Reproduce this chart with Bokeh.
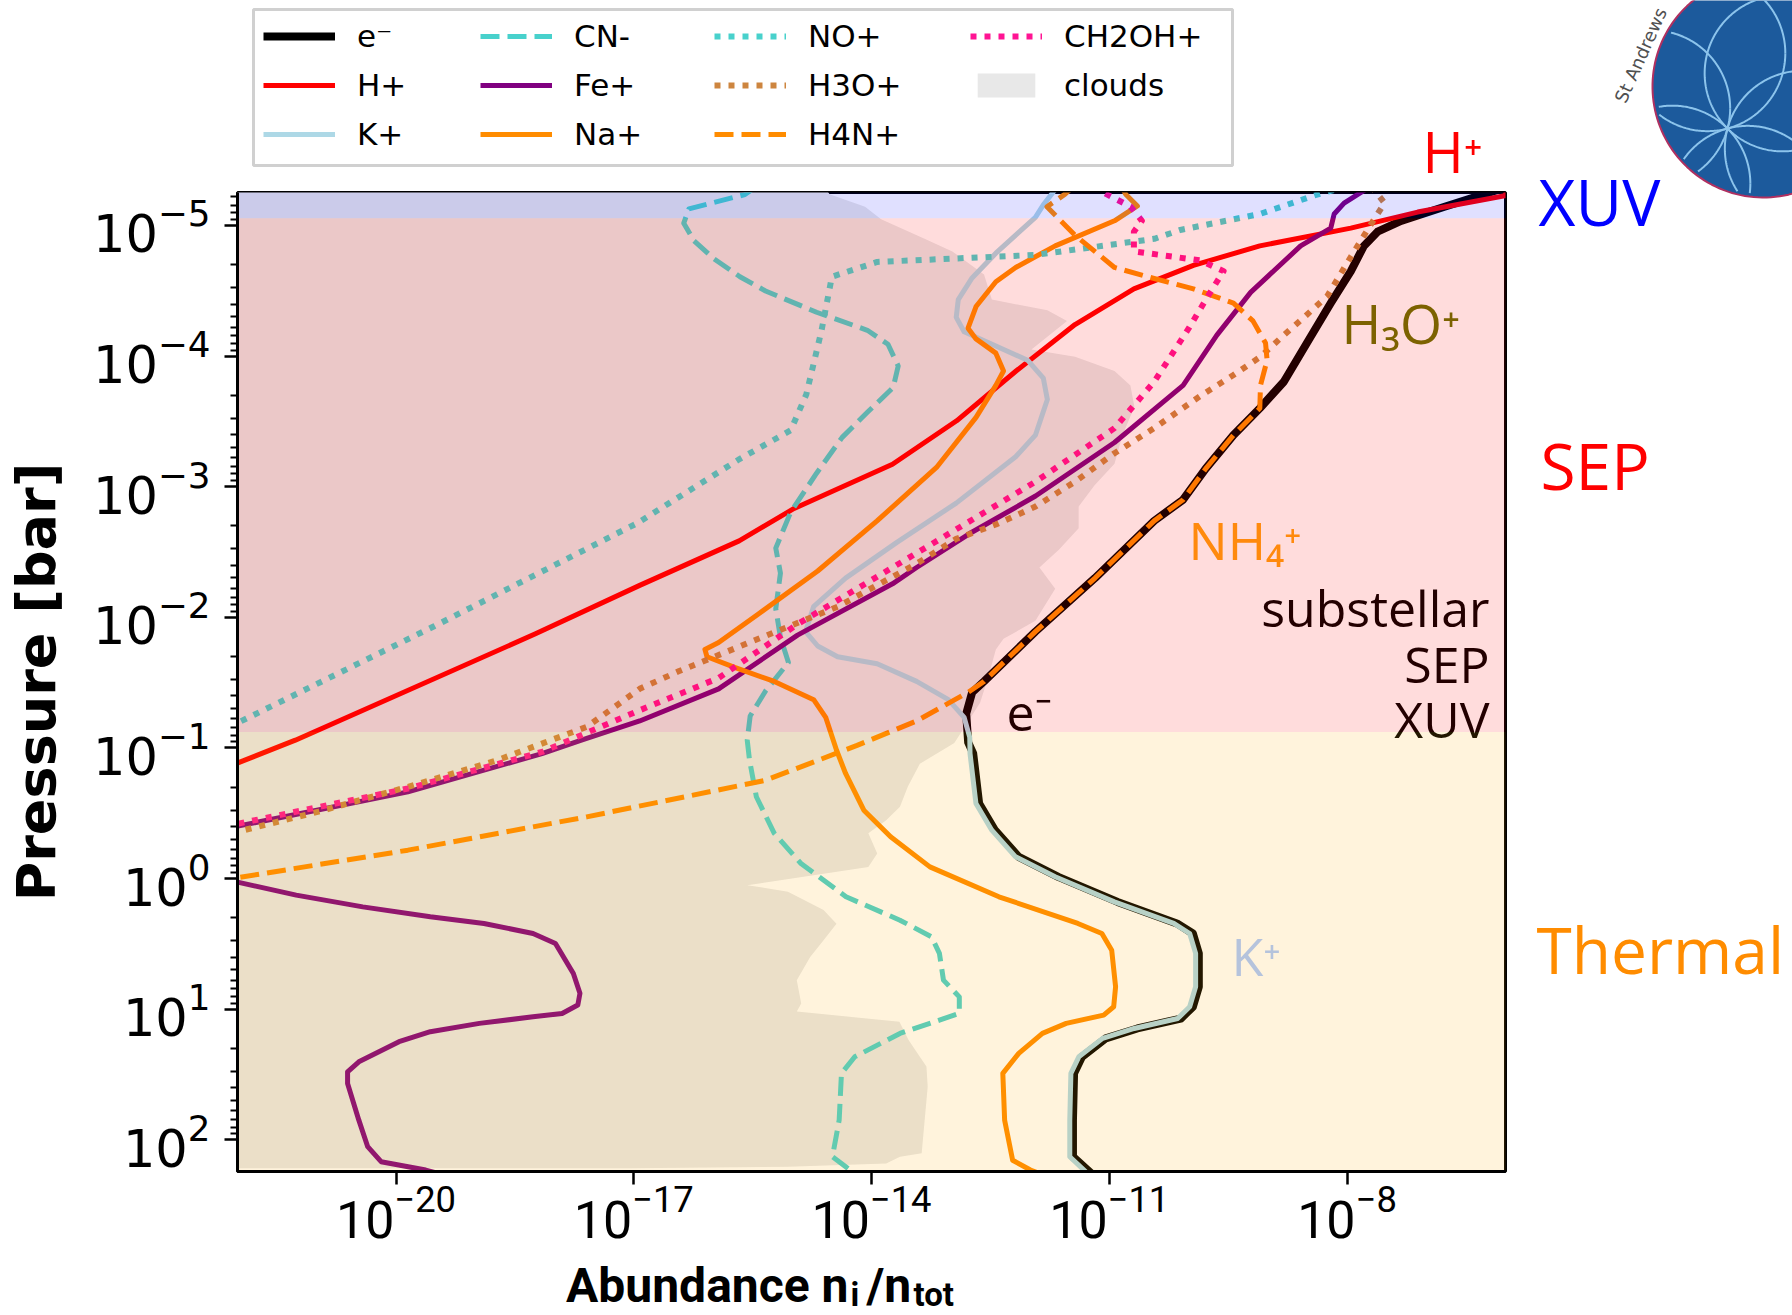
import numpy as np
from bokeh.plotting import figure
from bokeh.layouts import row, column
from bokeh.models import Range1d, FixedTicker, Legend, LegendItem
from bokeh.core.properties import value
from bokeh.embed import file_html
from bokeh.resources import INLINE

# ---------------- axis limits / ticks ----------------
x_lo, x_hi = 1e-22, 1e-6
p_top, p_bot = 5.6e-6, 175.0
x_major_ticks = [1e-20, 1e-17, 1e-14, 1e-11, 1e-8]
y_major_ticks = [1e-5, 1e-4, 1e-3, 1e-2, 1e-1, 1e0, 1e1, 1e2]

# ---------------- irradiation regions ----------------
region_names = ["XUV", "SEP", "Thermal"]
region_p_upper = [1e-7, 8.8e-6, 0.0755]
region_p_lower = [8.8e-6, 0.0755, 1e4]

# ---------------- species profiles (log10 p [bar], log10 n_i/n_tot) ----------------
electron_logp = [-5.30, -5.143, -5.035, -4.952, -4.843, -4.650, -4.405, -4.104, -3.803, -3.600, -3.394,
                 -3.136, -2.900, -2.738, -2.300, -1.890, -1.509, -1.425, -1.261, -1.042, -0.958, -0.574,
                 -0.370, -0.166, -0.013, 0.179, 0.344, 0.421, 0.573, 0.829, 0.982, 1.072, 1.148, 1.224,
                 1.365, 1.492, 1.850, 2.130, 2.300]
electron_logx = [-5.95, -6.769, -7.318, -7.614, -7.787, -7.951, -8.205, -8.502, -8.797, -9.100, -9.433,
                 -9.785, -10.068, -10.433, -11.180, -11.932, -12.580, -12.730, -12.805, -12.780, -12.717,
                 -12.642, -12.442, -12.142, -11.643, -10.895, -10.146, -9.945, -9.870, -9.870, -9.945,
                 -10.097, -10.645, -11.044, -11.344, -11.444, -11.458, -11.458, -11.150]

hplus_logp = [-5.30, -5.227, -5.102, -4.979, -4.843, -4.694, -4.514, -4.241, -3.885, -3.504, -3.171,
              -2.833, -2.585, -2.244, -1.873, -1.059, -0.879, -0.500]
hplus_logx = [-5.95, -6.010, -7.108, -7.952, -9.100, -9.938, -10.689, -11.432, -12.176, -12.926, -13.735,
              -14.976, -15.670, -16.925, -18.240, -21.270, -22.020, -24.000]

kplus_logp = [-5.30, -5.157, -5.061, -4.952, -4.787, -4.598, -4.432, -4.296, -4.186, -4.077, -3.968,
              -3.831, -3.667, -3.394, -3.229, -2.874, -2.573, -2.300, -2.081, -1.890, -1.780, -1.698,
              -1.644, -1.509, -1.369, -1.234, -1.080, -0.958, -0.574, -0.370, -0.166, -0.013, 0.179,
              0.344, 0.421, 0.573, 0.829, 0.982, 1.072, 1.148, 1.224, 1.365, 1.492, 1.850, 2.130, 2.300]
kplus_logx = [-11.65, -11.832, -11.932, -12.132, -12.431, -12.731, -12.905, -12.931, -12.831, -12.431,
              -12.031, -11.832, -11.781, -11.932, -12.181, -12.931, -13.680, -14.327, -14.731, -14.832,
              -14.679, -14.428, -13.929, -13.431, -13.030, -12.831, -12.760, -12.757, -12.682, -12.482,
              -12.182, -11.683, -10.935, -10.186, -9.985, -9.910, -9.910, -9.985, -10.137, -10.685,
              -11.084, -11.384, -11.484, -11.498, -11.498, -11.200]

cnminus_logp = [-5.30, -5.236, -5.127, -5.017, -4.881, -4.744, -4.607, -4.498, -4.335, -4.197, -4.090,
                -3.924, -3.759, -3.569, -3.377, -3.103, -2.804, -2.529, -2.338, -2.065, -1.846, -1.654,
                -1.436, -1.244, -1.059, -0.906, -0.626, -0.346, -0.115, 0.140, 0.319, 0.446, 0.573,
                0.778, 0.906, 1.033, 1.084, 1.186, 1.365, 1.492, 1.850, 2.130, 2.232, 2.300]
cnminus_logx = [-15.45, -15.597, -16.304, -16.369, -16.239, -15.987, -15.660, -15.337, -14.693, -14.052,
                -13.792, -13.663, -13.726, -14.052, -14.370, -14.693, -15.020, -15.208, -15.149, -15.208,
                -15.149, -15.048, -15.337, -15.531, -15.568, -15.539, -15.453, -15.227, -14.890, -14.322,
                -13.641, -13.244, -13.143, -13.092, -12.892, -12.892, -13.143, -13.641, -14.211, -14.379,
                -14.408, -14.493, -14.269, -14.100]

feplus_logp = [-5.30, -5.171, -5.087, -4.979, -4.843, -4.487, -4.160, -3.775, -3.338, -2.928, -2.639,
               -2.381, -2.256, -1.863, -1.452, -1.206, -1.059, -0.956, -0.663, -0.398, -0.200, -0.100,
               0.025, 0.127, 0.217, 0.293, 0.344, 0.421, 0.497, 0.727, 0.879, 0.969, 1.033, 1.059,
               1.109, 1.173, 1.249, 1.403, 1.480, 1.569, 1.850, 2.053, 2.168, 2.232, 2.300]
feplus_logx = [-7.70, -8.037, -8.162, -8.205, -8.585, -9.216, -9.642, -10.068, -10.934, -11.930,
               -12.767, -13.431, -13.735, -14.933, -15.929, -16.925, -17.660, -18.158, -19.850, -22.020,
               -23.500, -23.500, -22.020, -21.259, -20.419, -19.567, -18.890, -18.271, -17.988, -17.762,
               -17.679, -17.706, -17.904, -18.271, -18.948, -19.567, -19.962, -20.469, -20.611, -20.611,
               -20.469, -20.357, -20.188, -19.625, -19.200]

naplus_logp = [-5.30, -5.236, -5.149, -5.035, -4.843, -4.678, -4.569, -4.379, -4.213, -4.131, -4.022,
               -3.885, -3.775, -3.530, -3.147, -2.738, -2.354, -2.025, -1.807, -1.754, -1.698, -1.616,
               -1.509, -1.369, -1.234, -0.984, -0.804, -0.523, -0.319, -0.089, 0.140, 0.344, 0.421,
               0.549, 0.829, 0.982, 1.046, 1.109, 1.186, 1.339, 1.492, 1.850, 2.157, 2.232, 2.300]
naplus_logx = [-10.85, -10.790, -10.645, -10.934, -11.682, -12.181, -12.431, -12.681, -12.782, -12.681,
               -12.431, -12.334, -12.431, -12.681, -13.180, -13.930, -14.679, -15.427, -15.929, -16.102,
               -16.076, -15.727, -15.227, -14.730, -14.578, -14.442, -14.327, -14.097, -13.759, -13.263,
               -12.392, -11.396, -11.093, -10.969, -10.920, -10.944, -11.070, -11.543, -11.843, -12.142,
               -12.343, -12.320, -12.219, -11.994, -11.700]

noplus_logp = [-5.30, -5.231, -5.087, -4.965, -4.897, -4.774, -4.720, -4.607, -4.197, -3.705, -3.431,
               -3.213, -2.721, -1.929, -1.185, -0.900]
noplus_logx = [-8.00, -8.402, -9.100, -10.104, -10.433, -11.930, -13.929, -14.500, -14.630, -14.823,
               -15.020, -15.660, -16.954, -19.526, -22.020, -23.000]

h3oplus_logp = [-5.30, -5.239, -5.171, -5.006, -4.760, -4.459, -4.296, -4.160, -3.994, -3.854, -3.694,
                -3.448, -3.256, -3.038, -2.848, -2.710, -2.600, -2.410, -2.081, -1.835, -1.588, -1.452,
                -1.161, -0.906, -0.702, -0.512, -0.355, -0.200]
h3oplus_logx = [-7.70, -7.614, -7.527, -7.700, -7.951, -8.249, -8.543, -8.797, -9.092, -9.433, -9.851,
                -10.433, -10.934, -11.432, -11.930, -12.431, -12.931, -13.431, -14.428, -15.427, -16.426,
                -16.925, -17.593, -18.721, -19.850, -20.977, -22.020, -23.300]

h4nplus_logp = [-5.30, -5.239, -5.143, -4.925, -4.678, -4.610, -4.514, -4.405, -4.269, -4.099, -3.968,
                -3.775, -3.600, -3.394, -3.136, -2.900, -2.738, -2.300, -1.890, -1.509, -1.425, -1.206,
                -1.019, -0.752, -0.472, -0.217, -0.004, 0.200]
h4nplus_logx = [-11.45, -11.558, -11.786, -11.432, -10.934, -10.534, -9.938, -9.433, -9.187, -9.028,
                -9.008, -9.092, -9.100, -9.433, -9.785, -10.068, -10.433, -11.180, -11.932, -12.580,
                -12.782, -13.431, -14.182, -15.337, -17.593, -19.850, -22.020, -24.000]

ch2ohplus_logp = [-5.30, -5.239, -5.143, -5.035, -4.952, -4.801, -4.732, -4.650, -4.487, -4.213, -3.803,
                  -3.448, -3.038, -2.491, -1.947, -1.535, -1.288, -0.969, -0.689, -0.416, -0.200]
ch2ohplus_logx = [-11.20, -11.035, -10.730, -10.588, -10.689, -10.689, -9.851, -9.557, -9.726, -9.996,
                  -10.433, -10.934, -11.930, -13.431, -14.933, -15.929, -16.925, -18.158, -19.850,
                  -22.020, -23.500]

# cloud deck: right-hand boundary of the cloudy layer
cloud_logp = [-5.30, -5.239, -5.143, -5.047, -4.897, -4.801, -4.624, -4.432, -4.350, -4.269, -4.050,
              -3.994, -3.885, -3.775, -3.612, -3.394, -3.175, -3.011, -2.848, -2.682, -2.519, -2.381,
              -2.218, -1.973, -1.835, -1.754, -1.535, -1.345, -1.037, -0.879, -0.704, -0.549, -0.446,
              -0.346, -0.192, -0.089, 0.051, 0.101, 0.241, 0.346, 0.472, 0.600, 0.778, 0.956, 1.019,
              1.096, 1.237, 1.439, 1.594, 2.104, 2.130, 2.181, 2.206, 2.218]
cloud_logx = [-14.60, -14.529, -14.081, -13.879, -13.331, -12.980, -12.580, -12.482, -11.781, -11.533,
              -11.982, -11.432, -10.934, -10.733, -10.683, -10.833, -10.934, -11.185, -11.386, -11.386,
              -11.633, -11.881, -11.682, -11.932, -12.334, -12.431, -12.530, -12.630, -12.955, -13.390,
              -13.541, -13.641, -13.815, -14.040, -13.928, -14.040, -15.568, -15.055, -14.605, -14.442,
              -14.605, -14.774, -14.943, -14.887, -14.943, -13.648, -13.533, -13.307, -13.291, -13.367,
              -13.641, -13.815, -15.055, -17.026]

species_names = ["e\u207b", "H+", "K+", "CN-", "Fe+", "Na+", "NO+", "H3O+", "H4N+", "CH2OH+"]
species_logp = [electron_logp, hplus_logp, kplus_logp, cnminus_logp, feplus_logp, naplus_logp,
                noplus_logp, h3oplus_logp, h4nplus_logp, ch2ohplus_logp]
species_logx = [electron_logx, hplus_logx, kplus_logx, cnminus_logx, feplus_logx, naplus_logx,
                noplus_logx, h3oplus_logx, h4nplus_logx, ch2ohplus_logx]

# styles (kept apart from the data)
species_color = ["black", "red", "lightblue", "mediumturquoise", "purple", "darkorange",
                 "mediumturquoise", "peru", "darkorange", "deeppink"]
species_width = [8, 5, 5, 5, 5, 5, 6, 6, 5, 6]
species_dash = ["solid", "solid", "solid", "19 8", "solid", "solid", "6 8", "6 8", "19 8", "6 8"]

# ---------------- page geometry (pixels) ----------------
W, H = 1792, 1315
FL, FR, FT, FB = 237, 1505, 192, 1171       # plot frame in page pixels
MAIN_W = FR + 3                              # 1508
HEAD_H = FT - 2                              # 190
FOOT_Y = 1256
MAIN_H = FOOT_Y - HEAD_H
RIGHT_W = W - MAIN_W                         # 284
LX0, LX1 = np.log10(x_lo), np.log10(x_hi)
LY0, LY1 = np.log10(p_top), np.log10(p_bot)
BASE = 0.40     # measured offset of the rendered text baseline, in em


def dx(px):
    return 10 ** (LX0 + (px - FL) * (LX1 - LX0) / (FR - FL))


def dy(py):
    return 10 ** (LY0 + (py - FT) * (LY1 - LY0) / (FB - FT))


def blank(w, h, x0=0, x1=None):
    f = figure(width=w, height=h, x_range=Range1d(x0, w if x1 is None else x1),
               y_range=Range1d(h, 0),
               min_border=0, toolbar_location=None, output_backend="svg",
               x_axis_location=None, y_axis_location=None, outline_line_color=None,
               background_fill_color="white", border_fill_color="white")
    f.grid.visible = False
    return f


# ================= main plot =================
p = figure(x_axis_type="log", y_axis_type="log",
           x_range=Range1d(x_lo, x_hi), y_range=Range1d(p_bot, p_top),
           width=MAIN_W, height=MAIN_H,
           min_border_left=FL, min_border_right=MAIN_W - FR,
           min_border_top=FT - HEAD_H, min_border_bottom=FOOT_Y - FB,
           output_backend="svg", toolbar_location=None,
           background_fill_color="white", border_fill_color="white")
p.grid.visible = False
p.outline_line_color = "black"
p.outline_line_width = 3

cx = [1e-24] + list(10.0 ** np.array(cloud_logx)) + [1e-24]
cy = [10 ** cloud_logp[0]] + list(10.0 ** np.array(cloud_logp)) + [10 ** cloud_logp[-1]]
p.patch(cx, cy, fill_color="#e8e8e8", line_color=None)

for lp, lx, col, wdt, dsh in zip(species_logp, species_logx, species_color, species_width, species_dash):
    p.line(10.0 ** np.array(lx), 10.0 ** np.array(lp), line_color=col, line_width=wdt,
           line_dash=dsh, line_cap="butt", line_join="round")


def intext(px, py, txt, size, color, align="left", font="Open Sans"):
    p.text(x=[dx(px)], y=[dy(py - BASE * size)], text=[txt], text_font=value(font),
           text_font_size=value(f"{size}px"), text_color=color, text_align=align,
           text_baseline="alphabetic")


intext(1341, 344, "H\u2083O\u207a", 54, "#687200")
intext(1188, 560, "NH\u2084\u207a", 52, "#ffa010")
intext(1489, 627, "substellar", 50, "black", "right")
intext(1489, 683, "SEP", 50, "black", "right")
intext(1489, 738, "XUV", 50, "black", "right")
intext(1006, 731, "e\u207b", 50, "black")
intext(1231, 976, "K\u207a", 52, "#aac8ff")

# irradiation bands, semi-transparent, drawn over everything
p.quad(left=x_lo / 100, right=x_hi * 100, top=region_p_upper, bottom=region_p_lower,
       fill_color=["#0000ff", "#ff0000", "#ffa500"], fill_alpha=[0.12, 0.137, 0.137],
       line_color=None)

p.xaxis.ticker = FixedTicker(ticks=x_major_ticks, minor_ticks=[])
y_minor = [k * 10.0 ** n for n in range(-6, 3) for k in range(2, 10)]
p.yaxis.ticker = FixedTicker(ticks=y_major_ticks, minor_ticks=y_minor)
for ax in (p.xaxis, p.yaxis):
    ax.axis_line_width = 3
    ax.major_tick_line_width = 2.5
    ax.minor_tick_line_width = 2
    ax.major_tick_in = 0
    ax.minor_tick_in = 0
    ax.major_tick_out = 13
    ax.minor_tick_out = 7
    ax.major_label_text_color = "black"
p.xaxis.major_label_text_font = "Roboto"
p.xaxis.major_label_text_font_size = "52px"
p.xaxis.major_label_standoff = 0
p.yaxis.major_label_text_font = "DejaVu Sans"
p.yaxis.major_label_text_font_size = "51px"
p.yaxis.major_label_standoff = 14
p.yaxis.axis_label = "Pressure [bar]"
p.yaxis.axis_label_text_font = "DejaVu Sans"
p.yaxis.axis_label_text_font_style = "bold"
p.yaxis.axis_label_text_font_size = "54px"
p.yaxis.axis_label_text_color = "black"
p.yaxis.axis_label_standoff = 22

# ================= header: legend and H+ label =================
# (its frame is aligned with the main frame, so x runs over FL..FR page pixels)
head = blank(MAIN_W, HEAD_H, FL, FR)
head.quad(left=[253], right=[1232], top=[9], bottom=[165], fill_color="white",
          line_color="#d0d0d0", line_width=3)
proxies = []
for col, wdt, dsh in zip(species_color, species_width, species_dash):
    proxies.append(head.line(x=[-5000, -4000], y=[-5000, -5000], line_color=col, line_width=wdt,
                             line_dash=dsh, line_cap="butt"))
cloud_proxy = head.patch(x=[-5000, -4000, -4000], y=[-5000, -5000, -4000],
                         fill_color="#e8e8e8", line_color=None)
all_items = [(species_names[i], proxies[i]) for i in range(10)] + [("clouds", cloud_proxy)]
columns = [all_items[0:3], all_items[3:6], all_items[6:9], all_items[9:11]]
col_x = [263, 480, 714, 970]
for items, x0 in zip(columns, col_x):
    n = len(items)
    height = n * 36 + (n - 1) * 13
    lg = Legend(items=[LegendItem(label=l, renderers=[r]) for l, r in items],
                location=(x0 - FL, HEAD_H - (18 + height)),
                orientation="vertical", glyph_width=72, glyph_height=30, label_height=36,
                label_standoff=22, spacing=13, padding=0, margin=0,
                border_line_color=None, background_fill_alpha=0,
                label_text_font="DejaVu Sans", label_text_font_size="31px",
                label_text_color="black")
    head.add_layout(lg)
head.text(x=[1422], y=[173 - BASE * 56], text=["H\u207a"], text_font=value("Open Sans"),
          text_font_size=value("56px"), text_color="red", text_baseline="alphabetic")

# ================= footer: x-axis title =================
foot = blank(MAIN_W, H - FOOT_Y, FL, FR)
for txt, xx, yy, size, align in [("Abundance n", 848, 1304, 48, "right"),
                                 ("i", 850, 1307, 33, "left"),
                                 ("/n", 866, 1304, 48, "left"),
                                 ("tot", 913, 1307, 33, "left")]:
    foot.text(x=[xx], y=[yy - FOOT_Y - BASE * size], text=[txt], text_font=value("Roboto"),
              text_font_style="bold", text_font_size=value(f"{size}px"), text_align=align,
              text_baseline="alphabetic", text_color="black")

# ================= right column: region names and logo =================
right = blank(RIGHT_W, H)
ox = MAIN_W
t = np.linspace(0, 2 * np.pi, 160)
lcx, lcy, lr = 1763 - ox, 86, 111
right.patch(lcx + lr * np.cos(t), lcy + lr * np.sin(t), fill_color="#1c5a9c",
            line_color="#b03060", line_width=2)
# crest pattern: circles through one common point, kept inside the disc
hub_x, hub_y, hub_r = 1727 - ox, 128, 78
seg_x, seg_y = [], []
th = np.linspace(0, 2 * np.pi, 361)
for phi in np.radians([15, 75, 135, 195, 255, 315]):
    ccx, ccy = hub_x + hub_r * np.cos(phi), hub_y + hub_r * np.sin(phi)
    qx, qy = ccx + hub_r * np.cos(th), ccy + hub_r * np.sin(th)
    inside = np.hypot(qx - lcx, qy - lcy) < lr - 3
    cur_x, cur_y = [], []
    for a, b, ok in zip(qx, qy, inside):
        if ok:
            cur_x.append(a)
            cur_y.append(b)
        elif cur_x:
            seg_x.append(cur_x)
            seg_y.append(cur_y)
            cur_x, cur_y = [], []
    if cur_x:
        seg_x.append(cur_x)
        seg_y.append(cur_y)
right.multi_line(seg_x, seg_y, line_color="#8cc4ec", line_width=2)
ang = 1.15
right.text(x=[1626 - ox - BASE * 18 * np.sin(ang)], y=[104 - BASE * 18 * np.cos(ang)],
           text=["St Andrews"], text_font=value("DejaVu Sans"),
           text_font_size=value("18px"), text_color="#505050", angle=ang,
           text_baseline="alphabetic")
for txt, px, py, col in [("XUV", 1538, 227, "blue"), ("SEP", 1540, 491, "red"),
                         ("Thermal", 1536, 975, "#ff8c00")]:
    right.text(x=[px - ox], y=[py - BASE * 64], text=[txt], text_font=value("Open Sans"),
               text_font_size=value("64px"), text_color=col, text_baseline="alphabetic")

layout = row(column(head, p, foot), right)
open("out.html", "w").write(file_html(layout, INLINE, title="Ion abundances"))
